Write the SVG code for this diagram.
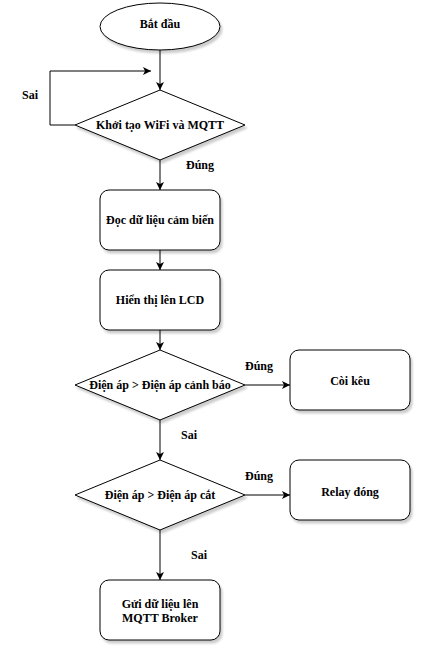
<svg xmlns="http://www.w3.org/2000/svg" width="423" height="653" viewBox="0 0 423 653">
<defs>
<marker id="arr" markerWidth="10" markerHeight="10" refX="8" refY="4" orient="auto" markerUnits="userSpaceOnUse">
<path d="M0,0 L8,4 L0,8 L2,4 Z" fill="#000"/>
</marker>
<filter id="sh" x="-20%" y="-20%" width="140%" height="150%">
<feDropShadow dx="2" dy="3" stdDeviation="1" flood-color="#000" flood-opacity="0.2"/>
</filter>
<style>
.n{fill:#fff;stroke:#000;stroke-width:1;filter:url(#sh)}
.e{fill:none;stroke:#000;stroke-width:1;marker-end:url(#arr)}
text{font-family:"Liberation Serif","Times New Roman",serif;font-weight:bold;font-size:12px;fill:#000;text-anchor:middle;dominant-baseline:central}
</style>
</defs>
<rect width="423" height="653" fill="#fff"/>
<g id="connectors">
<path class="e" d="M160,50 L160,90"/>
<path class="e" d="M75,125 L50,125 L50,71 L151,71"/>
<path class="e" d="M160,160 L160,190"/>
<path class="e" d="M160,250 L160,270"/>
<path class="e" d="M160,330 L160,350"/>
<path class="e" d="M245,385 L290,385"/>
<path class="e" d="M160,420 L160,460"/>
<path class="e" d="M245,495 L290,495"/>
<path class="e" d="M160,530 L160,580"/>
<text x="30" y="95">Sai</text>
<text x="200" y="165">Đúng</text>
<text x="259" y="366">Đúng</text>
<text x="189" y="435">Sai</text>
<text x="259" y="476">Đúng</text>
<text x="199" y="555">Sai</text>
</g>
<g id="start">
<ellipse class="n" cx="160" cy="26.5" rx="60" ry="23.5"/>
<text x="160" y="24">Bắt đầu</text>
</g>
<g id="init">
<polygon class="n" points="160,90 245,125 160,160 75,125"/>
<text x="160" y="125">Khởi tạo WiFi và MQTT</text>
</g>
<g id="read">
<rect class="n" x="100" y="190" width="120" height="60" rx="9"/>
<text x="160" y="220">Đọc dữ liệu cảm biến</text>
</g>
<g id="lcd">
<rect class="n" x="100" y="270" width="120" height="60" rx="9"/>
<text x="160" y="300">Hiển thị lên LCD</text>
</g>
<g id="warn">
<polygon class="n" points="160,350 245,385 160,420 75,385"/>
<text x="160" y="385">Điện áp &gt; Điện áp cảnh báo</text>
</g>
<g id="buzzer">
<rect class="n" x="290" y="350" width="120" height="60" rx="9"/>
<text x="350" y="381">Còi kêu</text>
</g>
<g id="cut">
<polygon class="n" points="160,460 245,495 160,530 75,495"/>
<text x="160" y="495">Điện áp &gt; Điện áp cắt</text>
</g>
<g id="relay">
<rect class="n" x="290" y="460" width="120" height="60" rx="9"/>
<text x="350" y="492">Relay đóng</text>
</g>
<g id="send">
<rect class="n" x="100" y="580" width="120" height="60" rx="9"/>
<text x="160" y="604">Gửi dữ liệu lên</text>
<text x="160" y="618">MQTT Broker</text>
</g>
</svg>
